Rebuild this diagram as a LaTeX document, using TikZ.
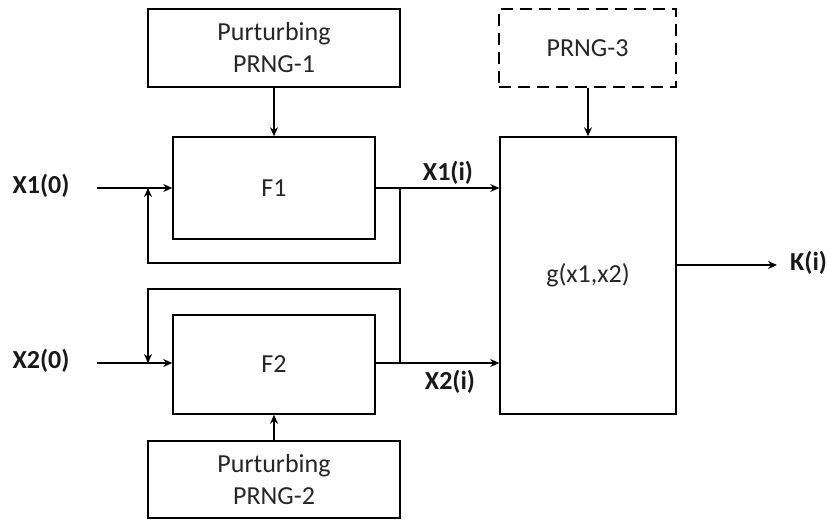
\documentclass[tikz,border=0pt]{standalone}
\usepackage{fontspec}
\setmainfont{Carlito}
\usetikzlibrary{arrows.meta}
\begin{document}
\begin{tikzpicture}[x=1pt,y=-1pt,
  blk/.style={draw=black,line width=1.5pt,rectangle,inner sep=0pt,align=center,
    font=\fontsize{26}{32}\selectfont,text=black!85},
  dashblk/.style={blk,dash pattern=on 12pt off 7pt},
  lbl/.style={font=\fontsize{26}{32}\selectfont\bfseries,text=black!90,inner sep=0pt},
  wire/.style={line width=1.5pt,draw=black},
  arr/.style={wire,-{Stealth[length=9pt,width=8pt]}}]
\useasboundingbox (0,0) rectangle (829,522);
% blocks
\node[blk,minimum width=252pt,minimum height=78pt] (p1) at (274,48) {Purturbing\\PRNG-1};
\node[blk,minimum width=202pt,minimum height=102pt] (f1) at (274,188) {F1};
\node[dashblk,minimum width=177pt,minimum height=78pt] (p3) at (587.5,48) {PRNG-3};
\node[blk,minimum width=176pt,minimum height=277pt] (g) at (588,275.5) {g(x1,x2)};
\node[blk,minimum width=202pt,minimum height=99pt] (f2) at (274,364.5) {F2};
\node[blk,minimum width=252pt,minimum height=77pt] (p2) at (274,479.5) {Purturbing\\PRNG-2};
% labels
\node[lbl] (x10) at (41,186) {X1(0)};
\node[lbl] (x20) at (41,361) {X2(0)};
\node[lbl] (x1i) at (448,173) {X1(i)};
\node[lbl] (x2i) at (450,382) {X2(i)};
\node[lbl,anchor=west] (k) at (790,263) {K(i)};
% coordinates
\coordinate (in1) at (97,188);
\coordinate (in2) at (97,363);
\coordinate (j1) at (400,188);
\coordinate (j2) at (400,363);
\coordinate (fb1a) at (400,263);
\coordinate (fb1b) at (148,263);
\coordinate (fb1c) at (148,188);
\coordinate (fb2a) at (400,289);
\coordinate (fb2b) at (148,289);
\coordinate (fb2c) at (148,363);
\coordinate (kend) at (777,265);
% connectors
\draw[arr] (p1.south) -- (f1.north);
\draw[arr] (p3.south -| g.north) -- (g.north);
\draw[arr] (p2.north) -- (f2.south);
\draw[arr] (in1) -- (f1.west |- in1);
\draw[arr] (in2) -- (f2.west |- in2);
\draw[arr] (f1.east |- j1) -- (g.west |- j1);
\draw[arr] (f2.east |- j2) -- (g.west |- j2);
\draw[arr] (j1) -- (fb1a) -- (fb1b) -- (fb1c);
\draw[arr] (j2) -- (fb2a) -- (fb2b) -- (fb2c);
\draw[arr] (g.east |- kend) -- (kend);
\end{tikzpicture}
\end{document}
